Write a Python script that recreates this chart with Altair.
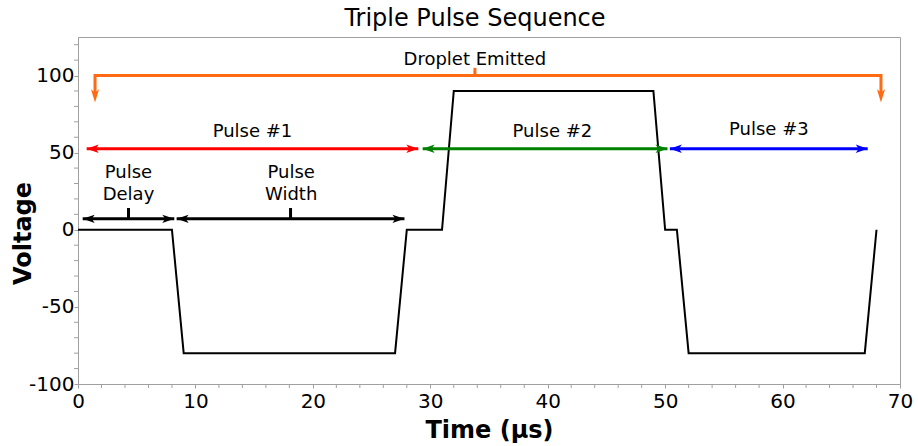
import altair as alt
import pandas as pd

# Waveform
t_us = [0, 8, 9, 27, 28, 31, 32, 49, 50, 51, 52, 67, 68]
volts = [0, 0, -80, -80, 0, 0, 90, 90, 0, 0, -80, -80, 0]

# Axis ticks
x_major = [0, 10, 20, 30, 40, 50, 60, 70]
x_minor = [v for v in range(0, 71, 2) if v % 10 != 0]
y_major = [-100, -50, 0, 50, 100]
y_minor = [v for v in range(-100, 121, 10) if v % 50 != 0]

# Coloured span arrows (Pulse #1..#3) and black arrows (delay / width)
span_x1 = [0.74, 29.35, 50.4, 0.4, 8.4]
span_x2 = [28.98, 50.2, 67.25, 8.2, 27.8]
span_y = [52.5, 52.5, 52.5, 7.1, 7.1]
span_col = ["#ff0000", "#008000", "#0000ff", "#000000", "#000000"]

# Small ticks on the bracket / arrows
tick_x = [33.8, 4.3, 18.1]
tick_y1 = [100, 7.1, 7.1]
tick_y2 = [105, 14.1, 14.1]
tick_col = ["#ff6a13", "#000000", "#000000"]

# Orange "Droplet Emitted" bracket
brk_x = [1.45, 1.45, 68.38, 68.38]
brk_y = [88, 100, 100, 88]
brk_tip_x = [1.45, 68.38]
brk_tip_y = [82.5, 82.5]

# Labels
lab_text = ["Droplet Emitted", "Pulse #1", "Pulse #2", "Pulse #3", "Pulse\nDelay", "Pulse\nWidth"]
lab_x = [33.8, 14.86, 40.4, 58.83, 4.3, 18.15]
lab_y = [107.1, 60.2, 60.0, 61.3, 33.6, 33.6]

ORANGE = "#ff6a13"
FONT = "DejaVu Sans"
GRAY = "#a0a0a0"
W, H = 822, 347

xs = alt.Scale(domain=[0, 70], nice=False, zero=False)
ys = alt.Scale(domain=[-100, 125], nice=False, zero=False)

wave = pd.DataFrame({"t": t_us, "v": volts, "i": list(range(len(t_us)))})
spans = pd.DataFrame({"x1": span_x1, "x2": span_x2, "y": span_y, "col": span_col})
ticks = pd.DataFrame({"x": tick_x, "y1": tick_y1, "y2": tick_y2, "col": tick_col})
brk = pd.DataFrame({"x": brk_x, "y": brk_y, "i": list(range(len(brk_x)))})
brk_tips = pd.DataFrame({"x": brk_tip_x, "y": brk_tip_y})
heads_right = pd.DataFrame({"x": span_x2, "y": span_y, "col": span_col})
heads_left = pd.DataFrame({"x": span_x1, "y": span_y, "col": span_col})
labels = pd.DataFrame({"x": lab_x, "y": lab_y, "text": lab_text})
xmin_df = pd.DataFrame({"x": x_minor})
ymin_df = pd.DataFrame({"y": y_minor})

x_axis = alt.Axis(
    values=x_major, format="d",
    grid=False, tickSize=4, tickColor=GRAY, domainColor=GRAY,
    labelFontSize=20, labelFont=FONT, labelColor="#000000", labelPadding=3,
    labelFlush=False, labelOverlap=False,
    title="Time (µs)", titleFont=FONT, titleFontSize=24, titleFontWeight="bold",
    titleColor="#000000", titleBaseline="alphabetic", titleY=53.5,
)
y_axis = alt.Axis(
    values=y_major, labelExpr="replace(datum.label, '\u2212', '-')",
    grid=False, tickSize=4, tickColor=GRAY, domainColor=GRAY,
    labelFontSize=20, labelFont=FONT, labelColor="#000000", labelPadding=0,
    labelFlush=False, labelOverlap=False,
    title="Voltage", titleFont=FONT, titleFontSize=24, titleFontWeight="bold",
    titleColor="#000000", titleBaseline="alphabetic", titleAlign="center",
    titleX=-47.5, titleY=196, titleAngle=270,
)

base_wave = alt.Chart(wave).mark_line(color="#000000", strokeWidth=2).encode(
    x=alt.X("t:Q", scale=xs, axis=x_axis),
    y=alt.Y("v:Q", scale=ys, axis=y_axis),
    order="i:Q",
)

x_minor_ticks = alt.Chart(xmin_df).mark_rule(color=GRAY, strokeWidth=1).encode(
    x=alt.X("x:Q", scale=xs), y=alt.value(H), y2=alt.value(H + 4)
)
y_minor_ticks = alt.Chart(ymin_df).mark_rule(color=GRAY, strokeWidth=1).encode(
    y=alt.Y("y:Q", scale=ys), x=alt.value(-4), x2=alt.value(0)
)

span_lines = alt.Chart(spans).mark_rule(strokeWidth=3).encode(
    x=alt.X("x1:Q", scale=xs), x2="x2:Q", y=alt.Y("y:Q", scale=ys),
    color=alt.Color("col:N", scale=None),
)

RIGHT = "M0,0 L-2,-0.7 L-1.5,0 L-2,0.7 Z"
LEFT = "M0,0 L2,-0.7 L1.5,0 L2,0.7 Z"
DOWN = "M0,0 L-0.6,-2 L0,-1.5 L0.6,-2 Z"

hr = alt.Chart(heads_right).mark_point(shape=RIGHT, filled=True, size=144, opacity=1, strokeWidth=0).encode(
    x=alt.X("x:Q", scale=xs), y=alt.Y("y:Q", scale=ys), color=alt.Color("col:N", scale=None)
)
hl = alt.Chart(heads_left).mark_point(shape=LEFT, filled=True, size=144, opacity=1, strokeWidth=0).encode(
    x=alt.X("x:Q", scale=xs), y=alt.Y("y:Q", scale=ys), color=alt.Color("col:N", scale=None)
)

small_ticks = alt.Chart(ticks).mark_rule(strokeWidth=3).encode(
    x=alt.X("x:Q", scale=xs), y=alt.Y("y1:Q", scale=ys), y2="y2:Q",
    color=alt.Color("col:N", scale=None),
)

bracket = alt.Chart(brk).mark_line(color=ORANGE, strokeWidth=3).encode(
    x=alt.X("x:Q", scale=xs), y=alt.Y("y:Q", scale=ys), order="i:Q"
)
bracket_heads = alt.Chart(brk_tips).mark_point(shape=DOWN, filled=True, size=180, opacity=1, strokeWidth=0, color=ORANGE).encode(
    x=alt.X("x:Q", scale=xs), y=alt.Y("y:Q", scale=ys)
)

texts = alt.Chart(labels).mark_text(
    font=FONT, fontSize=18, color="#000000", align="center", baseline="alphabetic",
    lineBreak="\n", lineHeight=21.7,
).encode(x=alt.X("x:Q", scale=xs), y=alt.Y("y:Q", scale=ys), text="text:N")

chart = alt.layer(
    base_wave, x_minor_ticks, y_minor_ticks, bracket, bracket_heads,
    span_lines, hr, hl, small_ticks, texts
).properties(
    width=W, height=H,
    padding={"left": 78, "top": 37, "right": 18, "bottom": 62},
    autosize=alt.AutoSizeParams(type="none"),
    title=alt.TitleParams(
        "Triple Pulse Sequence", font=FONT, fontSize=24, fontWeight="normal",
        color="#000000", anchor="middle", baseline="alphabetic", offset=11, dx=-14, dy=24,
    ),
).configure_view(stroke=GRAY, strokeWidth=1)

chart.save("out.html", embed_options={"renderer": "svg", "actions": False})
